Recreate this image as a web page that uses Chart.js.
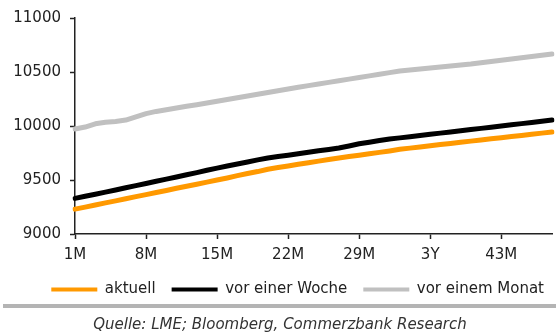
<!DOCTYPE html>
<html>
<head>
<meta charset="utf-8">
<script src="https://cdn.jsdelivr.net/npm/chart.js@4/dist/chart.umd.min.js"></script>
<style>
  html, body { margin: 0; padding: 0; background: #fff; }
  #wrap { width: 560px; height: 336px; }
</style>
</head>
<body>
<div id="wrap"><canvas id="c" width="560" height="336"></canvas></div>
<script>
const categories = [];
for (let m = 1; m <= 48; m++) categories.push(m === 36 ? '3Y' : m + 'M');

const aktuell = [9230, 9249, 9268, 9288, 9307, 9326, 9346, 9365, 9384, 9403, 9423, 9442, 9461, 9480, 9500, 9519,
  9540, 9560, 9578, 9600, 9615, 9630, 9645, 9660, 9675, 9690, 9704, 9717, 9730, 9743, 9756, 9769,
  9784, 9795, 9806, 9817, 9828, 9838, 9849, 9860, 9870, 9881, 9892, 9902, 9913, 9924, 9934, 9945];
const vorEinerWoche = [9330, 9350, 9368, 9388, 9408, 9428, 9448, 9468, 9488, 9508, 9528, 9548, 9568, 9590, 9610, 9630,
  9648, 9667, 9686, 9704, 9717, 9730, 9743, 9757, 9770, 9783, 9796, 9815, 9835, 9850, 9866, 9880,
  9890, 9901, 9912, 9923, 9934, 9945, 9956, 9967, 9978, 9989, 10000, 10011, 10022, 10033, 10044, 10055];
const vorEinemMonat = [9972, 9990, 10020, 10035, 10042, 10055, 10085, 10115, 10135, 10150, 10167, 10183, 10197, 10213, 10229, 10245,
  10262, 10278, 10294, 10310, 10326, 10342, 10358, 10374, 10389, 10404, 10419, 10434, 10449, 10464, 10479, 10494,
  10509, 10518, 10528, 10537, 10546, 10555, 10565, 10574, 10586, 10598, 10609, 10621, 10632, 10644, 10656, 10667];
const seriesNames = ['aktuell', 'vor einer Woche', 'vor einem Monat'];
const seriesColors = ['#ff9900', '#000000', '#c0c0c0'];
const yTicks = [9000, 9500, 10000, 10500, 11000];
const sourceText = 'Quelle: LME; Bloomberg, Commerzbank Research';

const FONT = '"DejaVu Sans", sans-serif';

const separator = {
  id: 'separator',
  afterDraw(chart) {
    const ctx = chart.ctx;
    const y = chart.legend.bottom - 1;
    ctx.save();
    ctx.strokeStyle = '#b4b4b4';
    ctx.lineWidth = 4;
    ctx.beginPath();
    ctx.moveTo(3, y);
    ctx.lineTo(556, y);
    ctx.stroke();
    ctx.restore();
  }
};

const mk = (i, data) => ({
  label: seriesNames[i],
  data: data,
  borderColor: seriesColors[i],
  backgroundColor: seriesColors[i],
  borderWidth: 5,
  pointRadius: 0,
  tension: 0,
  borderCapStyle: 'round',
  borderJoinStyle: 'round'
});

new Chart(document.getElementById('c'), {
  type: 'line',
  data: {
    labels: categories,
    datasets: [mk(0, aktuell), mk(1, vorEinerWoche), mk(2, vorEinemMonat)]
  },
  options: {
    responsive: false,
    animation: false,
    layout: { padding: { left: 0, right: 0, top: 17, bottom: 0 } },
    plugins: {
      tooltip: { enabled: false },
      legend: {
        position: 'bottom',
        align: 'end',
        labels: {
          font: { family: FONT, size: 15 },
          color: '#222',
          boxWidth: 46,
          boxHeight: 4,
          padding: 16,
          generateLabels(chart) {
            return chart.data.datasets.map((d, i) => ({
              text: d.label,
              fillStyle: d.borderColor,
              strokeStyle: d.borderColor,
              lineWidth: 0,
              hidden: false,
              datasetIndex: i,
              fontColor: '#222'
            }));
          }
        }
      },
      title: {
        display: true,
        position: 'bottom',
        text: sourceText,
        color: '#333',
        font: { family: FONT, size: 15, style: 'italic', weight: 'normal', lineHeight: 1.2 },
        padding: { top: 9, bottom: 2 }
      }
    },
    scales: {
      x: {
        type: 'category',
        offset: false,
        afterFit(s) { s.height = 32; },
        grid: { drawOnChartArea: false, drawTicks: true, tickLength: 5, tickWidth: 1.5, tickColor: '#222' },
        border: { display: true, color: '#222', width: 1.5 },
        ticks: {
          autoSkip: false,
          maxRotation: 0,
          padding: 7,
          color: '#222',
          font: { family: FONT, size: 15 },
          callback(v, i) { return i % 7 === 0 ? categories[i] : null; }
        }
      },
      y: {
        min: 9000,
        max: 11000,
        afterFit(s) { s.width = 75; },
        afterBuildTicks(s) { s.ticks = yTicks.map(v => ({ value: v })); },
        grid: { drawOnChartArea: false, drawTicks: true, tickLength: 5, tickWidth: 1.5, tickColor: '#222' },
        border: { display: true, color: '#222', width: 1.5 },
        ticks: {
          padding: 9,
          color: '#222',
          font: { family: FONT, size: 15 },
          callback(v) { return String(v); }
        }
      },
      rightSpace: {
        type: 'linear',
        position: 'right',
        display: true,
        afterFit(s) { s.width = 8; },
        grid: { display: false },
        border: { display: false },
        ticks: { display: false }
      }
    }
  },
  plugins: [separator]
});
</script>
</body>
</html>
